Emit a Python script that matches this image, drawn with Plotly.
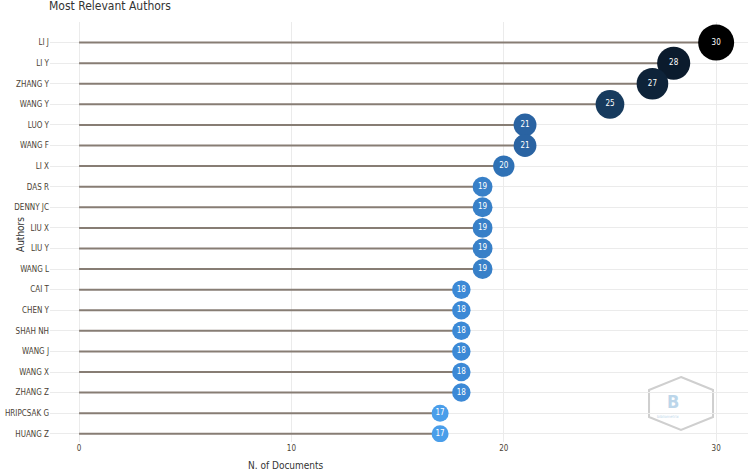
import plotly.graph_objects as go

authors = ["LI J", "LI Y", "ZHANG Y", "WANG Y", "LUO Y", "WANG F", "LI X", "DAS R",
           "DENNY JC", "LIU X", "LIU Y", "WANG L", "CAI T", "CHEN Y", "SHAH NH",
           "WANG J", "WANG X", "ZHANG Z", "HRIPCSAK G", "HUANG Z"]
docs = [30, 28, 27, 25, 21, 21, 20, 19, 19, 19, 19, 19, 18, 18, 18, 18, 18, 18, 17, 17]

FONT = "DejaVu Sans Condensed, DejaVu Sans, Verdana, sans-serif"
TXT = "#4a3f35"

# stems from 0 to the value
sx, sy = [], []
for a, v in zip(authors, docs):
    sx += [0, v, None]
    sy += [a, a, None]

vmin, vmax = min(docs), max(docs)
sizes = [17 + (v - vmin) * 19 / (vmax - vmin) for v in docs]

cscale = [[0.0, "#4A9EEA"], [0.077, "#3C89D6"], [0.154, "#3880C8"], [0.231, "#2F71B5"],
          [0.308, "#2A63A2"], [0.615, "#173B5E"], [0.769, "#0E2339"], [0.846, "#0B1B2D"],
          [1.0, "#000000"]]

fig = go.Figure()
fig.add_trace(go.Scatter(x=sx, y=sy, mode="lines",
                         line=dict(color="#877d74", width=2),
                         hoverinfo="skip", showlegend=False))
fig.add_trace(go.Scatter(x=docs, y=authors, mode="markers+text",
                         text=[str(v) for v in docs], textposition="middle center",
                         textfont=dict(color="white", size=8, family=FONT),
                         marker=dict(size=sizes, color=docs, colorscale=cscale,
                                     cmin=vmin, cmax=vmax, line=dict(width=0), opacity=1),
                         showlegend=False))

# pixel -> paper helpers (plot area: x 50..748, y 22..442)
def px(x):
    return (x - 50) / 698

def py(y):
    return (442 - y) / 420

# watermark hexagon
hexpts = [(681, 377), (713, 390), (713, 417), (681, 430), (649, 417), (649, 390)]
path = "M " + " L ".join(f"{px(a):.4f},{py(b):.4f}" for a, b in hexpts) + " Z"
fig.add_shape(type="path", path=path, xref="paper", yref="paper",
              line=dict(color="#cfcfcf", width=2), layer="below")
fig.add_annotation(x=px(681), y=py(401), xref="paper", yref="paper", text="<b>B</b>",
                   showarrow=False, yanchor="middle",
                   font=dict(size=18, color="#bcd6ea", family=FONT))
fig.add_annotation(x=px(681), y=py(416), xref="paper", yref="paper", text="bibliometrix",
                   showarrow=False, yanchor="middle",
                   font=dict(size=4, color="#bcd6ea", family=FONT))

# titles
fig.add_annotation(x=px(47), y=py(6), xref="paper", yref="paper", text="Most Relevant Authors",
                   showarrow=False, xanchor="left", yanchor="middle",
                   font=dict(size=12, color="#333333", family=FONT))
fig.add_annotation(x=px(246), y=py(465), xref="paper", yref="paper", text="N. of Documents",
                   showarrow=False, xanchor="left", yanchor="middle",
                   font=dict(size=10, color="#333333", family=FONT))
fig.add_annotation(x=px(20), y=py(235), xref="paper", yref="paper", text="Authors",
                   showarrow=False, textangle=-90, xanchor="center", yanchor="middle",
                   font=dict(size=10, color="#333333", family=FONT))

fig.update_layout(
    width=750, height=470,
    margin=dict(l=50, r=2, t=22, b=28),
    paper_bgcolor="white", plot_bgcolor="white",
    font=dict(family=FONT, color=TXT, size=8),
    xaxis=dict(range=[-1.37, 31.5], tickvals=[0, 10, 20, 30], showgrid=True,
               gridcolor="#ebebeb", gridwidth=1, zeroline=False, showline=False,
               ticks="", tickfont=dict(size=8, color=TXT), automargin=False),
    yaxis=dict(type="category", categoryorder="array", categoryarray=authors,
               range=[19.4, -1.0], showgrid=True, gridcolor="#ebebeb", gridwidth=1,
               zeroline=False, showline=False, ticks="", tickfont=dict(size=8, color=TXT),
               automargin=False),
)

fig.write_html("out.html", config={"displayModeBar": False},
               post_script="document.body.style.margin='0';")
